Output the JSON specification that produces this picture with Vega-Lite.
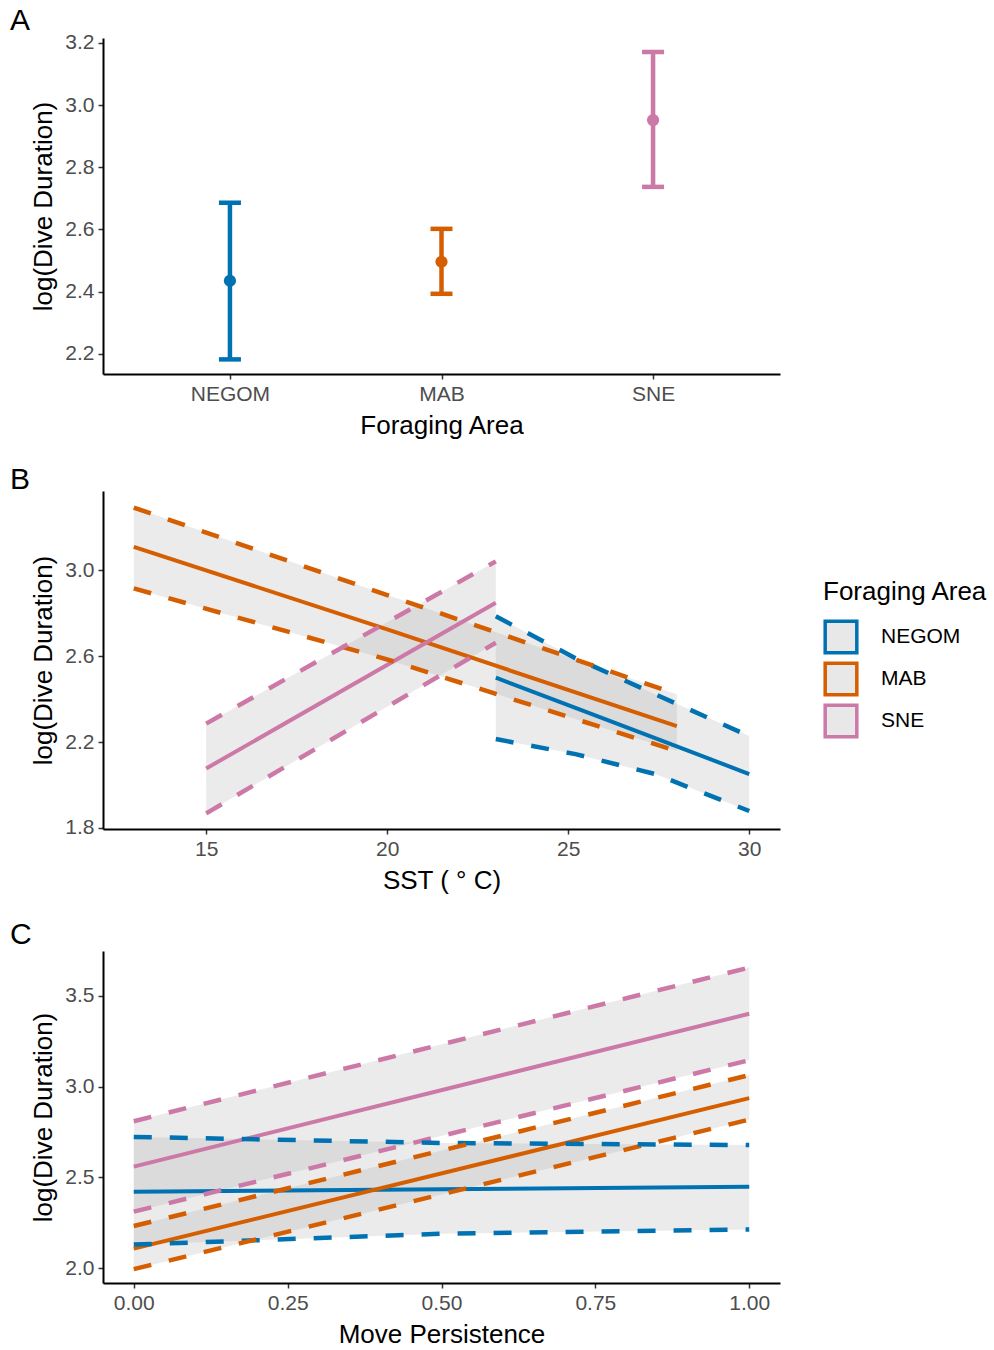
{
  "$schema": "https://vega.github.io/schema/vega-lite/v6.json",
  "padding": {"left": 10, "top": 5, "right": 0, "bottom": 0},
  "background": "white",
  "datasets": {
    "a": [
      {"area": "NEGOM", "est": 2.435, "lo": 2.182, "hi": 2.686},
      {"area": "MAB", "est": 2.496, "lo": 2.393, "hi": 2.602},
      {"area": "SNE", "est": 2.952, "lo": 2.737, "hi": 3.171}
    ],
    "b": [
      {"area": "NEGOM", "x": 23, "est": 2.500, "lo": 2.214, "hi": 2.786},
      {"area": "NEGOM", "x": 25.2, "est": 2.359, "lo": 2.144, "hi": 2.591},
      {"area": "NEGOM", "x": 27.4, "est": 2.219, "lo": 2.051, "hi": 2.423},
      {"area": "NEGOM", "x": 30, "est": 2.051, "lo": 1.879, "hi": 2.228},
      {"area": "MAB", "x": 13, "est": 3.110, "lo": 2.916, "hi": 3.293},
      {"area": "MAB", "x": 20, "est": 2.725, "lo": 2.585, "hi": 2.885},
      {"area": "MAB", "x": 28, "est": 2.274, "lo": 2.158, "hi": 2.423},
      {"area": "SNE", "x": 15, "est": 2.077, "lo": 1.868, "hi": 2.286},
      {"area": "SNE", "x": 23, "est": 2.849, "lo": 2.663, "hi": 3.042}
    ],
    "c": [
      {"area": "NEGOM", "x": 0, "est": 2.422, "lo": 2.131, "hi": 2.723},
      {"area": "NEGOM", "x": 0.5, "est": 2.435, "lo": 2.191, "hi": 2.690},
      {"area": "NEGOM", "x": 1, "est": 2.449, "lo": 2.214, "hi": 2.678},
      {"area": "MAB", "x": 0, "est": 2.109, "lo": 1.996, "hi": 2.233},
      {"area": "MAB", "x": 1, "est": 2.936, "lo": 2.818, "hi": 3.063},
      {"area": "SNE", "x": 0, "est": 2.560, "lo": 2.312, "hi": 2.809},
      {"area": "SNE", "x": 1, "est": 3.400, "lo": 3.145, "hi": 3.654}
    ]
  },
  "spacing": 27,
  "resolve": {"legend": {"color": "independent"}},
  "vconcat": [
    {
      "width": 677,
      "height": 336,
      "title": {"text": "A", "anchor": "start", "frame": "group", "dx": -93, "fontSize": 30, "fontWeight": "normal", "offset": -28, "baseline": "alphabetic", "color": "black"},
      "data": {"name": "a"},
      "encoding": {
        "x": {"field": "area", "type": "nominal", "sort": ["NEGOM", "MAB", "SNE"], "scale": {"type": "point", "padding": 0.6}, "axis": {"title": "Foraging Area", "labelAngle": 0}},
        "color": {"field": "area", "type": "nominal", "scale": {"domain": ["NEGOM", "MAB", "SNE"], "range": ["#0072B2", "#D55E00", "#CC79A7"]}, "legend": null}
      },
      "layer": [
        {"mark": {"type": "rule", "strokeWidth": 4.5}, "encoding": {"y": {"field": "lo", "type": "quantitative", "title": "log(Dive Duration)", "scale": {"domain": [2.135, 3.216], "nice": false, "zero": false}, "axis": {"values": [2.2, 2.4, 2.6, 2.8, 3.0, 3.2], "format": ".1f"}}, "y2": {"field": "hi"}}},
        {"mark": {"type": "tick", "orient": "horizontal", "size": 22, "thickness": 4.5, "opacity": 1}, "encoding": {"y": {"field": "lo", "type": "quantitative", "title": "log(Dive Duration)"}}},
        {"mark": {"type": "tick", "orient": "horizontal", "size": 22, "thickness": 4.5, "opacity": 1}, "encoding": {"y": {"field": "hi", "type": "quantitative", "title": "log(Dive Duration)"}}},
        {"mark": {"type": "point", "filled": true, "size": 150, "opacity": 1}, "encoding": {"y": {"field": "est", "type": "quantitative", "title": "log(Dive Duration)"}}}
      ]
    },
    {
      "width": 677,
      "height": 338,
      "title": {"text": "B", "anchor": "start", "frame": "group", "dx": -93, "fontSize": 30, "fontWeight": "normal", "offset": -28, "baseline": "alphabetic", "color": "black"},
      "data": {"name": "b"},
      "encoding": {
        "x": {"field": "x", "type": "quantitative", "scale": {"domain": [12.15, 30.85], "nice": false, "zero": false}, "axis": {"values": [15, 20, 25, 30], "title": "SST ( ° C)"}}
      },
      "layer": [
        {"mark": {"type": "area", "color": "#999999", "opacity": 0.2}, "encoding": {"y": {"field": "lo", "type": "quantitative", "title": "log(Dive Duration)", "scale": {"domain": [1.795, 3.37], "nice": false, "zero": false}, "axis": {"values": [1.8, 2.2, 2.6, 3.0], "format": ".1f"}}, "y2": {"field": "hi"}, "detail": {"field": "area"}}},
        {"mark": {"type": "line", "strokeWidth": 4}, "encoding": {"y": {"field": "est", "type": "quantitative", "title": "log(Dive Duration)"}, "color": {"field": "area", "type": "nominal", "scale": {"domain": ["NEGOM", "MAB", "SNE"], "range": ["#0072B2", "#D55E00", "#CC79A7"]}, "legend": {"title": "Foraging Area", "orient": "none", "legendX": 720, "legendY": 88, "symbolType": "square", "symbolSize": 1000, "symbolStrokeWidth": 3.5, "symbolFillColor": "#e8e8e8", "labelOffset": 22, "rowPadding": -4, "titlePadding": 14, "labelFontSize": 21, "titleFontSize": 26, "titleFontWeight": "normal", "labelColor": "black", "titleColor": "black", "titleFont": "Liberation Sans", "labelFont": "Liberation Sans"}}}},
        {"mark": {"type": "line", "strokeWidth": 4.5, "strokeDash": [18, 18]}, "encoding": {"y": {"field": "lo", "type": "quantitative", "title": "log(Dive Duration)"}, "color": {"field": "area", "type": "nominal"}}},
        {"mark": {"type": "line", "strokeWidth": 4.5, "strokeDash": [18, 18]}, "encoding": {"y": {"field": "hi", "type": "quantitative", "title": "log(Dive Duration)"}, "color": {"field": "area", "type": "nominal"}}}
      ]
    },
    {
      "width": 677,
      "height": 332,
      "title": {"text": "C", "anchor": "start", "frame": "group", "dx": -93, "fontSize": 30, "fontWeight": "normal", "offset": -23, "baseline": "alphabetic", "color": "black"},
      "data": {"name": "c"},
      "encoding": {
        "x": {"field": "x", "type": "quantitative", "scale": {"domain": [-0.05, 1.05], "nice": false, "zero": false}, "axis": {"values": [0, 0.25, 0.5, 0.75, 1], "format": ".2f", "title": "Move Persistence"}}
      },
      "layer": [
        {"mark": {"type": "area", "color": "#999999", "opacity": 0.2}, "encoding": {"y": {"field": "lo", "type": "quantitative", "title": "log(Dive Duration)", "scale": {"domain": [1.92, 3.745], "nice": false, "zero": false}, "axis": {"values": [2.0, 2.5, 3.0, 3.5], "format": ".1f"}}, "y2": {"field": "hi"}, "detail": {"field": "area"}}},
        {"mark": {"type": "line", "strokeWidth": 4}, "encoding": {"y": {"field": "est", "type": "quantitative", "title": "log(Dive Duration)"}, "color": {"field": "area", "type": "nominal", "scale": {"domain": ["NEGOM", "MAB", "SNE"], "range": ["#0072B2", "#D55E00", "#CC79A7"]}, "legend": null}}},
        {"mark": {"type": "line", "strokeWidth": 4.5, "strokeDash": [18, 18]}, "encoding": {"y": {"field": "lo", "type": "quantitative", "title": "log(Dive Duration)"}, "color": {"field": "area", "type": "nominal", "legend": null}}},
        {"mark": {"type": "line", "strokeWidth": 4.5, "strokeDash": [18, 18]}, "encoding": {"y": {"field": "hi", "type": "quantitative", "title": "log(Dive Duration)"}, "color": {"field": "area", "type": "nominal", "legend": null}}}
      ]
    }
  ],
  "config": {
    "font": "Liberation Sans",
    "view": {"stroke": null},
    "axis": {
      "grid": false,
      "domainColor": "black",
      "domainWidth": 2,
      "tickColor": "#333333",
      "tickWidth": 1.5,
      "tickSize": 5,
      "labelColor": "#4d4d4d",
      "labelFontSize": 21,
      "labelPadding": 4,
      "titleFontSize": 26,
      "titleFontWeight": "normal",
      "titleColor": "black",
      "titlePadding": 8
    }
  }
}
